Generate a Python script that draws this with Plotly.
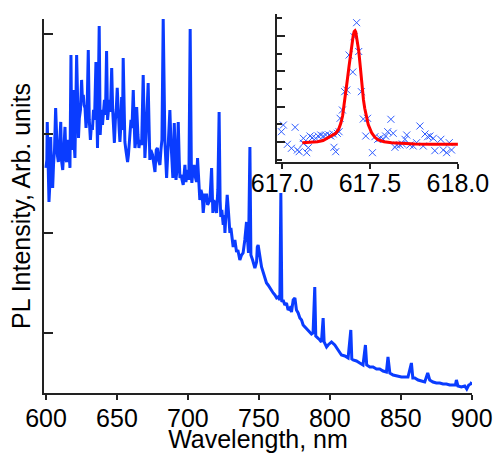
import plotly.graph_objects as go

# PL spectrum (main panel)
wavelength = [
    600.0, 600.6, 600.9, 601.4, 602.1, 602.7, 603.3, 603.9, 604.7, 605.3, 606.0, 606.8, 607.4, 608.0,
    608.7, 609.4, 610.4, 610.9, 611.8, 612.5, 613.4, 614.1, 614.6, 615.7, 616.4, 616.9, 617.6, 618.2,
    618.7, 619.2, 619.7, 620.4, 621.6, 622.3, 622.9, 623.5, 624.3, 625.1, 625.7, 626.3, 626.8, 627.5,
    628.2, 628.9, 629.8, 630.5, 631.3, 632.0, 632.7, 633.5, 634.2, 635.2, 635.9, 636.3, 636.8, 637.5,
    638.2, 639.1, 639.8, 640.5, 641.2, 641.9, 642.7, 643.4, 644.0, 644.7, 645.4, 646.3, 647.0, 647.5,
    648.2, 648.9, 649.5, 650.2, 650.9, 651.6, 652.1, 652.8, 653.3, 653.9, 654.4, 655.1, 655.6, 656.3,
    657.5, 658.1, 659.2, 659.9, 660.6, 661.5, 662.2, 662.7, 663.4, 663.9, 664.8, 665.5, 666.2, 667.4,
    668.5, 669.2, 669.7, 670.4, 672.0, 672.7, 673.2, 673.9, 675.1, 676.1, 676.8, 677.7, 678.5, 679.2,
    680.3, 681.0, 681.7, 682.6, 683.3, 683.8, 685.0, 685.9, 687.3, 688.0, 688.7, 689.4, 690.4, 691.1,
    691.6, 692.3, 693.2, 693.9, 694.4, 695.1, 696.7, 697.9, 698.6, 699.3, 700.0, 700.7, 701.6, 702.5,
    702.8, 703.5, 704.4, 704.9, 706.1, 706.8, 707.7, 708.4, 709.2, 710.1, 710.8, 712.0, 713.2, 713.9,
    715.5, 716.7, 717.6, 718.3, 719.0, 720.2, 721.1, 722.0, 722.7, 723.2, 723.9, 724.9, 725.6, 726.1,
    726.8, 727.7, 728.5, 729.6, 730.3, 731.9, 733.1, 734.3, 735.2, 736.6, 737.8, 738.9, 740.1, 741.3,
    742.3, 742.7, 743.7, 744.4, 745.6, 747.2, 748.4, 748.9, 749.5, 750.7, 751.9, 753.0, 754.2, 755.4,
    756.5, 757.7, 758.9, 760.1, 761.3, 762.5, 763.6, 764.8, 765.5, 766.2, 767.1, 768.3, 769.5, 770.6,
    771.8, 773.0, 774.2, 775.4, 776.5, 777.7, 778.9, 780.1, 781.2, 782.4, 783.6, 784.7, 785.9, 787.1,
    788.2, 789.4, 790.1, 791.8, 793.0, 794.1, 795.3, 796.0, 797.7, 798.8, 801.2, 803.5, 805.8, 808.2,
    810.6, 812.9, 814.8, 815.5, 816.4, 818.8, 821.1, 823.4, 825.1, 826.0, 828.2, 830.5, 832.9, 835.2,
    837.5, 839.9, 841.0, 842.3, 844.6, 847.0, 849.3, 850.5, 852.8, 855.1, 857.5, 858.5, 859.9, 862.2,
    864.6, 866.9, 869.0, 870.4, 872.7, 875.1, 877.5, 879.8, 882.2, 884.5, 886.8, 888.5, 889.2, 890.3,
    892.7, 895.1, 896.5, 897.9, 899.3, 900.0,
]
intensity = [
    2250, 2330, 2710, 2180, 1910, 2080, 2560, 2230, 2050, 2280, 2430, 2850, 2430, 2380,
    2310, 2430, 2710, 2330, 2230, 2430, 2660, 2330, 2310, 2530, 2380, 2250, 3380, 2430,
    2680, 3030, 2530, 2350, 3380, 2680, 2550, 2750, 2830, 3130, 2930, 2980, 2880, 2850,
    2650, 2780, 3430, 2730, 2530, 2680, 2630, 2830, 2730, 3310, 2780, 2450, 2930, 3670,
    2580, 2830, 2680, 2780, 2930, 2780, 3420, 2730, 2830, 2930, 2810, 3250, 2830, 2650,
    2500, 2730, 2830, 3050, 2730, 2630, 2510, 2680, 2960, 2630, 3350, 2630, 2510, 2430,
    2310, 2380, 2610, 2730, 2650, 3030, 2680, 2450, 2530, 2860, 2580, 2450, 2530, 2480,
    3180, 2630, 2350, 2530, 3100, 2630, 2330, 2430, 2380, 2280, 2210, 2430, 2450, 2330,
    2280, 2430, 2530, 3740, 2630, 2510, 2150, 2430, 2830, 2530, 2230, 2150, 2700, 2430,
    2130, 2230, 2710, 2330, 2150, 2180, 2080, 2280, 2110, 2180, 2230, 2130, 3640, 2150,
    2100, 2210, 2280, 2180, 2110, 2350, 2030, 1930, 2030, 1980, 1800, 1980, 1980, 1880,
    1930, 2250, 1800, 1930, 1880, 1800, 2030, 2810, 1930, 1760, 1830, 1680, 1780, 1600,
    1780, 1980, 1830, 1600, 1650, 1460, 1530, 1410, 1430, 1330, 1380, 1400, 1530, 1710,
    1480, 1400, 2460, 1380, 1330, 1250, 1310, 1460, 1480, 1350, 1260, 1210, 1150, 1100,
    1080, 1050, 1030, 1000, 980, 950, 960, 930, 2000, 910, 930, 880, 900, 830,
    850, 810, 930, 950, 830, 800, 750, 730, 680, 660, 650, 630, 610, 590,
    600, 1060, 570, 550, 530, 510, 750, 510, 460, 480, 510, 480, 430, 380,
    370, 350, 630, 340, 330, 320, 300, 280, 480, 280, 260, 260, 240, 240,
    220, 210, 360, 200, 180, 170, 160, 160, 160, 160, 300, 150, 150, 130,
    120, 110, 200, 130, 110, 100, 100, 90, 90, 80, 80, 80, 130, 70,
    60, 70, 40, 80, 90, 110,
]

# inset: single line near 617.4 nm, measured points and Lorentzian fit
inset_wl = [
    616.996, 617.007, 617.030, 617.053, 617.074, 617.087, 617.097, 617.121, 617.121, 617.140,
    617.149, 617.159, 617.172, 617.191, 617.205, 617.220, 617.235, 617.248, 617.267, 617.277,
    617.291, 617.295, 617.305, 617.314, 617.324, 617.330, 617.343, 617.356, 617.368, 617.381,
    617.402, 617.409, 617.424, 617.436, 617.451, 617.462, 617.476, 617.486, 617.514, 617.528,
    617.544, 617.557, 617.576, 617.589, 617.601, 617.619, 617.632, 617.642, 617.652, 617.670,
    617.684, 617.699, 617.709, 617.727, 617.746, 617.765, 617.784, 617.803, 617.813, 617.828,
    617.841, 617.860, 617.869, 617.903, 617.917, 617.936, 617.951, 617.964,
]
inset_counts = [
    303, 370, 177, 137, 347, 120, 103, 237, 187, 93,
    143, 260, 243, 237, 260, 270, 260, 270, 270, 260,
    280, 147, 103, 287, 303, 437, 520, 703, 720, 1070,
    900, 1253, 1393, 1105, 703, 430, 260, 437, 93, 253,
    227, 237, 227, 260, 303, 427, 287, 147, 170, 170,
    180, 227, 270, 170, 160, 193, 360, 160, 280, 253,
    260, 237, 113, 227, 120, 93, 193, 120,
]
fit_wl = [
    617.115, 617.159, 617.201, 617.233, 617.257, 617.281, 617.305, 617.321, 617.334, 617.344,
    617.352, 617.363, 617.371, 617.381, 617.390, 617.398, 617.405, 617.410, 617.415, 617.419,
    617.428, 617.436, 617.443, 617.450, 617.456, 617.463, 617.470, 617.480, 617.490, 617.510,
    617.528, 617.547, 617.580, 617.623, 617.682, 617.756, 617.841, 617.926, 618.002,
]
fit_counts = [
    193, 197, 203, 215, 237, 257, 287, 325, 387, 460,
    553, 680, 820, 960, 1087, 1190, 1270, 1305, 1313, 1300,
    1220, 1110, 987, 850, 720, 620, 537, 440, 375, 290,
    247, 220, 202, 193, 186, 180, 178, 177, 177,
]

font = "Liberation Sans, Arial, Helvetica, sans-serif"
axis_col = "#222222"

fig = go.Figure()
fig.add_trace(go.Scatter(x=wavelength, y=intensity, mode="lines",
                         line=dict(color="#0a3cff", width=3), showlegend=False))
fig.add_trace(go.Scatter(x=inset_wl, y=inset_counts, mode="markers", xaxis="x2", yaxis="y2",
                         marker=dict(symbol="x-thin", size=7, line=dict(color="#2f5cff", width=1)),
                         showlegend=False))
fig.add_trace(go.Scatter(x=fit_wl, y=fit_counts, mode="lines", xaxis="x2", yaxis="y2",
                         line=dict(color="#ff0000", width=3), showlegend=False))

fig.update_layout(
    width=493, height=453,
    margin=dict(l=44, r=21, t=14, b=60),
    paper_bgcolor="white", plot_bgcolor="white",
    font=dict(family=font, size=25, color="black"),
    xaxis=dict(range=[598.6, 900.2], tick0=600, dtick=50, ticks="outside", ticklen=5, tickwidth=1.5,
               tickcolor=axis_col, showline=True, linecolor=axis_col, linewidth=2, automargin=False,
               showgrid=False, zeroline=False, tickfont=dict(size=25), ticklabelstandoff=-3,
               title=dict(text="Wavelength, nm", font=dict(size=25), standoff=0)),
    yaxis=dict(range=[0, 3740], domain=[0, 0.987], tick0=600, dtick=995, ticks="inside", ticklen=9,
               tickwidth=1.5, tickcolor=axis_col, showline=True, linecolor=axis_col, linewidth=2,
               showgrid=False, zeroline=False, showticklabels=False, automargin=False,
               title=dict(text="PL Intensity, Arb. units", font=dict(size=25), standoff=4)),
    xaxis2=dict(domain=[0.544, 0.967], anchor="y2", range=[616.97, 618.0], tick0=617, dtick=0.5,
                tickformat=".1f", ticks="outside", ticklen=5, tickwidth=1.5, tickcolor=axis_col,
                showline=True, linecolor=axis_col, linewidth=2, showgrid=False, zeroline=False,
                tickfont=dict(size=25), automargin=False, ticklabelstandoff=-7),
    yaxis2=dict(domain=[0.6095, 1.0], anchor="x2", range=[0, 1480], tick0=200, dtick=354,
                ticks="inside", ticklen=8, tickwidth=1.5, tickcolor=axis_col,
                minor=dict(ticks="inside", ticklen=5, tick0=23, dtick=177, tickcolor=axis_col, tickwidth=1.5),
                showline=True, linecolor=axis_col, linewidth=2, showgrid=False, zeroline=False,
                showticklabels=False, automargin=False),
)

# drop the default page margin so the 493x453 figure sits at the window corner
fig.write_html("out.html", config={"displayModeBar": False},
               post_script="document.body.style.margin='0px';")
